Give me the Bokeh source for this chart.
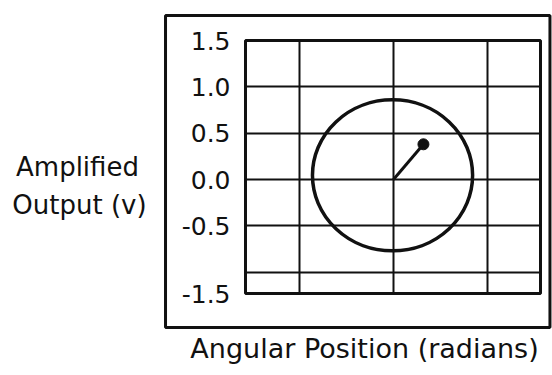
from bokeh.plotting import figure
from bokeh.models import Range1d, FixedTicker
from bokeh.core.properties import value
from bokeh.embed import file_html
from bokeh.resources import INLINE

# ---- data ----
y_tick_values = [1.5, 1.0, 0.5, 0.0, -0.5, -1.23]
y_tick_labels = ["1.5", "1.0", "0.5", "0.0", "-0.5", "-1.5"]
y_grid_values = [1.0, 0.5, 0.0, -0.5, -1.0]
x_grid_values = [-1.0, 0.0, 1.0]

orbit_center_x = [-0.01]
orbit_center_y = [0.045]
orbit_width = [1.71]
orbit_height = [1.63]

vector_x = [0.0, 0.32]
vector_y = [0.0, 0.38]

x_title = "Angular Position (radians)"
y_title_lines = ["Amplified", "Output (v)"]

FONT = "DejaVu Sans"
INK = "#111111"

p = figure(width=552, height=375, output_backend="svg", toolbar_location=None,
           x_range=Range1d(-1.58, 1.57), y_range=Range1d(-1.23, 1.5),
           min_border_left=245, min_border_right=12,
           min_border_top=40, min_border_bottom=82)

p.background_fill_color = "white"
p.border_fill_color = "white"
p.outline_line_color = INK
p.outline_line_width = 3
p.outline_line_alpha = 1

# axes
p.xaxis.visible = False
yax = p.yaxis[0]
yax.ticker = FixedTicker(ticks=y_tick_values)
yax.major_label_overrides = dict(zip(y_tick_values, y_tick_labels))
yax.axis_line_color = None
yax.major_tick_line_color = None
yax.minor_tick_line_color = None
yax.major_tick_out = 0
yax.major_tick_in = 0
yax.major_label_standoff = 15
yax.major_label_text_font = FONT
yax.major_label_text_font_size = "25px"
yax.major_label_text_color = INK

# grids
p.xgrid[0].ticker = FixedTicker(ticks=x_grid_values)
p.ygrid[0].ticker = FixedTicker(ticks=y_grid_values)
p.grid.grid_line_color = INK
p.grid.grid_line_width = 2
p.grid.grid_line_alpha = 1

# orbit and vector
p.ellipse(x=orbit_center_x, y=orbit_center_y, width=orbit_width, height=orbit_height,
          fill_color=None, line_color=INK, line_width=3.5)
p.line(vector_x, vector_y, line_color=INK, line_width=3)
p.scatter([vector_x[-1]], [vector_y[-1]], size=11, color=INK)

# outer frame around the chart (decoration, drawn above the frame clip)
p.rect(x=[-0.3815], y=[0.0865], width=[4.105], height=[3.367], fill_color=None,
       line_color=INK, line_width=3, level="overlay")

# titles (placed outside the plotting frame, overlay level so they are not clipped)
p.text(x=[-0.309], y=[-1.824], text=[x_title], text_font=value(FONT),
       text_font_size="27px", text_color=INK, text_align="center",
       text_baseline="middle", level="overlay")
p.text(x=[-3.374, -3.353], y=[0.14, -0.27], text=y_title_lines, text_font=value(FONT),
       text_font_size="26px", text_color=INK, text_align="center",
       text_baseline="middle", level="overlay")

open("out.html", "w").write(file_html(p, INLINE))
